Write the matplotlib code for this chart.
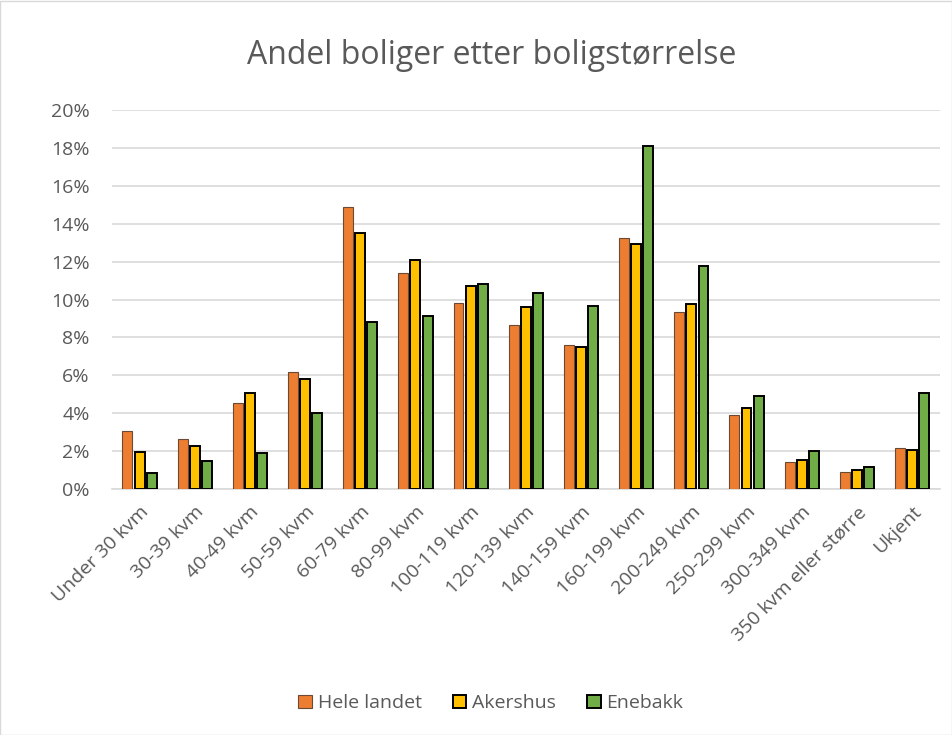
import numpy as np
import matplotlib.pyplot as plt
from matplotlib.ticker import PercentFormatter

categories = ["Under 30 kvm", "30-39 kvm", "40-49 kvm", "50-59 kvm", "60-79 kvm",
              "80-99 kvm", "100-119 kvm", "120-139 kvm", "140-159 kvm", "160-199 kvm",
              "200-249 kvm", "250-299 kvm", "300-349 kvm", "350 kvm eller større", "Ukjent"]
hele_landet = [3.08, 2.64, 4.52, 6.20, 14.87, 11.39, 9.84, 8.66, 7.61, 13.27, 9.35, 3.88, 1.41, 0.91, 2.16]
akershus = [1.93, 2.27, 5.08, 5.78, 13.50, 12.07, 10.70, 9.60, 7.49, 12.94, 9.77, 4.27, 1.53, 1.00, 2.07]
enebakk = [0.84, 1.46, 1.92, 3.99, 8.79, 9.12, 10.83, 10.35, 9.65, 18.12, 11.79, 4.89, 2.00, 1.16, 5.06]

plt.rcParams['font.family'] = ['Open Sans', 'DejaVu Sans']
txt = '#595959'

fig = plt.figure(figsize=(9.53, 7.35), dpi=100)
ax = fig.add_axes([0.1175, 0.3347, 0.8685, 0.5156])

x = np.arange(len(categories))
w = 0.18
step = 0.22
ax.bar(x - step, hele_landet, w, color='#ED7D31', edgecolor='#6b4a35', linewidth=0.8, label='Hele landet', zorder=3)
ax.bar(x, akershus, w, color='#FFC000', edgecolor='black', linewidth=1.4, label='Akershus', zorder=3)
ax.bar(x + step, enebakk, w, color='#70AD47', edgecolor='black', linewidth=1.4, label='Enebakk', zorder=3)

ax.set_xlim(-0.5, len(categories) - 0.5)
ax.set_ylim(0, 20)
ax.set_yticks(np.arange(0, 21, 2))
ax.yaxis.set_major_formatter(PercentFormatter(decimals=0))
ax.grid(axis='y', color='#d9d9d9', linewidth=1.2, zorder=0)
for s in ['top', 'right', 'left']:
    ax.spines[s].set_visible(False)
ax.spines['bottom'].set_color('#d9d9d9')
ax.spines['bottom'].set_linewidth(1.2)
ax.tick_params(length=0, labelsize=14, labelcolor=txt)
ax.tick_params(axis='y', pad=16)
ax.tick_params(axis='x', pad=10)
ax.set_xticks(x)
ax.set_xticklabels(categories, rotation=45, ha='right', rotation_mode='anchor')

fig.text(0.516, 0.925, 'Andel boliger etter boligstørrelse', ha='center', va='center',
         fontsize=23, color=txt)

leg = fig.legend(loc='center', bbox_to_anchor=(0.515, 0.043), ncol=3, frameon=False,
                 fontsize=14, labelcolor=txt, handlelength=0.7, handleheight=0.7,
                 handletextpad=0.3, columnspacing=1.6)

fig.patches.append(plt.Rectangle((0, 0), 0.999, 0.998, transform=fig.transFigure,
                                 fill=False, edgecolor='#d9d9d9', linewidth=1))
fig.savefig('out.png', dpi=100)
